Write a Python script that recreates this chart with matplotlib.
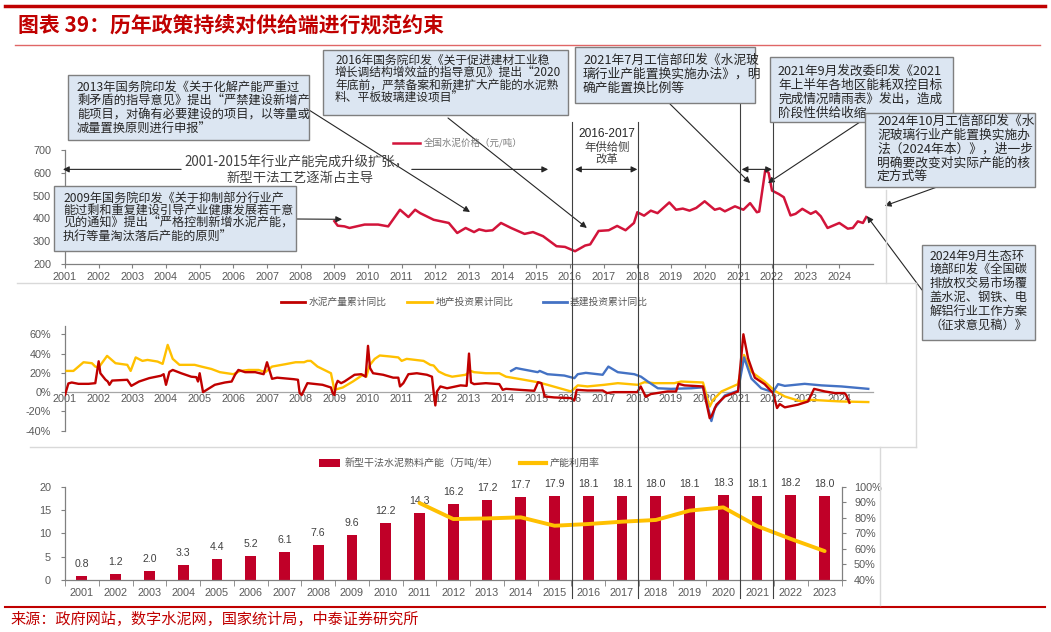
import matplotlib
matplotlib.use('Agg')
import matplotlib.pyplot as plt
from matplotlib.patches import Rectangle
from matplotlib.lines import Line2D
import matplotlib.transforms as mtrans

plt.rcParams['font.family'] = ['Liberation Sans', 'Noto Sans CJK SC', 'DejaVu Sans']
CJK = ['Noto Sans CJK SC', 'DejaVu Sans']

# ---------------- data ----------------
# national cement price (yuan/ton): (year, value)
price = [(2009.0, 388), (2009.1, 368), (2009.3, 365), (2009.45, 358), (2009.9, 373), (2010.3, 373),
         (2010.6, 365), (2010.95, 438), (2011.2, 406), (2011.4, 438), (2011.55, 423), (2011.95, 394),
         (2012.4, 380), (2012.65, 336), (2012.9, 358), (2013.15, 340), (2013.3, 352), (2013.5, 345),
         (2013.7, 348), (2013.95, 380), (2014.25, 358), (2014.65, 332), (2014.9, 340), (2015.2, 322),
         (2015.6, 278), (2015.85, 275), (2016.15, 256), (2016.45, 281), (2016.6, 286), (2016.85, 345),
         (2017.15, 348), (2017.4, 367), (2017.65, 348), (2017.9, 380), (2018.0, 427), (2018.2, 412),
         (2018.4, 434), (2018.6, 423), (2018.95, 470), (2019.15, 438), (2019.35, 443), (2019.55, 434),
         (2019.75, 446), (2020.0, 475), (2020.3, 438), (2020.45, 444), (2020.6, 431), (2020.9, 453),
         (2021.15, 438), (2021.35, 467), (2021.55, 427), (2021.62, 430), (2021.8, 612), (2021.9, 600),
         (2022.0, 522), (2022.2, 507), (2022.35, 493), (2022.55, 413), (2022.7, 420), (2022.9, 442),
         (2023.15, 420), (2023.3, 431), (2023.45, 409), (2023.65, 358), (2024.0, 380), (2024.25, 355),
         (2024.4, 358), (2024.55, 387), (2024.7, 380), (2024.8, 406)]

# cumulative YoY (%) : cement output
cement_yoy = [(2001.0, -3), (2001.1, 9), (2001.2, 10), (2001.4, 8.6), (2001.7, 8.6), (2001.9, 9.3),
              (2002.0, 32), (2002.05, 19.6), (2002.2, 13), (2002.27, 11), (2002.32, 7.6), (2002.4, 12),
              (2002.85, 12.8), (2002.97, 6.5), (2003.2, 11), (2003.5, 14.5), (2003.85, 17), (2003.93, 18.6),
              (2004.0, 7.6), (2004.1, 21), (2004.2, 23), (2004.45, 19.6), (2004.75, 16), (2004.9, 15.5),
              (2004.95, 11), (2005.0, 19.6), (2005.1, 0), (2005.45, 7.6), (2005.75, 10), (2005.95, 11),
              (2006.05, 18), (2006.15, 23), (2006.35, 20.7), (2006.65, 20.7), (2006.9, 18.6), (2007.0, 31),
              (2007.15, 13.8), (2007.3, 15), (2007.8, 13.4), (2007.92, 12.8), (2007.97, -1), (2008.03, -3),
              (2008.2, 9.3), (2008.65, 7.6), (2008.9, 4.8), (2008.95, -1), (2009.0, -3), (2009.05, 7.6),
              (2009.1, 11.7), (2009.2, 9.3), (2009.3, 11), (2009.6, 18), (2009.8, 18.6), (2009.93, 16),
              (2010.0, 48), (2010.06, 25), (2010.15, 19.6), (2010.45, 18), (2010.75, 15), (2010.9, 15),
              (2010.95, 5.9), (2011.05, 9.3), (2011.2, 18.6), (2011.45, 19.6), (2011.75, 18), (2011.9, 16),
              (2011.95, 0), (2012.0, -13.8), (2012.05, 0.7), (2012.15, 5.9), (2012.35, 4), (2012.75, 7),
              (2012.93, 6.5), (2013.0, 40), (2013.06, 10), (2013.15, 8.3), (2013.5, 9.3), (2013.9, 8.3),
              (2014.0, 2.4), (2014.1, 3.4), (2014.5, 2.4), (2014.94, 1.4), (2015.05, 10.3), (2015.15, 9.3),
              (2015.25, -4.5), (2015.53, -5.5), (2016.03, -6.2), (2016.13, -8.6), (2016.2, 2.4),
              (2016.52, 1.7), (2016.97, 1.7), (2017.1, -1), (2017.3, 0), (2018.0, 0), (2018.1, 5.9),
              (2018.25, -4.8), (2018.4, -2), (2018.9, 0.7), (2019.15, 0.7), (2019.22, 8.6), (2019.4, 7),
              (2019.95, 5.9), (2020.02, -6), (2020.15, -27), (2020.2, -25), (2020.35, -13), (2020.6, -4.5),
              (2020.99, 0.7), (2021.15, 60), (2021.29, 35), (2021.49, 15), (2021.78, 8.3), (2022.03, -1),
              (2022.15, -16.5), (2022.23, -12.4), (2022.38, -15.8), (2022.77, -13), (2023.07, -9.7),
              (2023.25, 3.4), (2023.57, 0.7), (2023.87, -1), (2024.15, -1), (2024.2, -2.8), (2024.3, -11)]

# cumulative YoY (%) : real-estate investment
estate_yoy = [(2001.05, 22), (2001.25, 22), (2001.55, 31), (2001.8, 30), (2001.9, 26.5), (2002.0, 25.5),
              (2002.25, 37.6), (2002.5, 30), (2002.85, 28.3), (2002.95, 22), (2003.1, 36), (2003.3, 32.4),
              (2003.45, 33.4), (2003.75, 31.7), (2003.9, 29.3), (2004.05, 49), (2004.2, 34.5), (2004.4, 28.3),
              (2004.85, 28.3), (2005.05, 26.5), (2005.35, 24), (2005.6, 20.7), (2006.0, 18.6), (2006.2, 22),
              (2006.45, 23), (2006.75, 23), (2006.95, 20.7), (2007.15, 26.5), (2007.55, 29), (2007.85, 31),
              (2008.1, 31), (2008.2, 32.4), (2008.3, 32.4), (2008.5, 26.5), (2008.9, 19.6), (2008.95, 11),
              (2009.0, 2.4), (2009.25, 4.8), (2009.55, 11), (2009.85, 18), (2009.95, 16), (2010.05, 28),
              (2010.2, 34.5), (2010.35, 38), (2010.65, 37), (2010.9, 36), (2011.0, 32.4), (2011.15, 34.5),
              (2011.65, 32.4), (2011.85, 28.3), (2011.95, 27.6), (2012.1, 21.4), (2012.3, 18), (2012.5, 16),
              (2012.9, 18), (2013.05, 22), (2013.15, 20.7), (2013.5, 19.6), (2013.9, 19.6), (2014.1, 16),
              (2014.54, 13.4), (2015.04, 10.3), (2015.33, 7.6), (2016.03, 0.7), (2016.23, 7), (2016.52, 5.9),
              (2017.02, 7.6), (2017.42, 9.3), (2018.01, 7.6), (2018.21, 10.3), (2018.51, 9.3), (2019.1, 9.3),
              (2019.3, 11), (2019.95, 10), (2020.05, -2.8), (2020.15, -15), (2020.25, -8), (2020.5, 0.7),
              (2020.99, 8.3), (2021.17, 38.6), (2021.39, 21), (2021.78, 11), (2022.08, 1.4), (2022.38, -4.5),
              (2022.87, -9.7), (2023.17, -8), (2023.67, -9), (2024.06, -9.7), (2024.86, -10.3)]

# cumulative YoY (%) : infrastructure investment
infra_yoy = [(2014.25, 22), (2014.4, 25), (2014.54, 24), (2015.04, 20.7), (2015.1, 22), (2015.33, 18.6),
             (2015.83, 17.2), (2016.13, 14.5), (2016.23, 18.6), (2016.47, 20), (2016.97, 18), (2017.14, 26.5),
             (2017.42, 20.7), (2017.91, 18.6), (2018.11, 16), (2018.31, 11), (2018.61, 4), (2019.0, 3.4),
             (2019.6, 4), (2019.95, 5), (2020.2, -30), (2020.3, -16.5), (2020.6, -3.4), (2020.99, 1.4),
             (2021.17, 36), (2021.39, 14), (2021.68, 4), (2022.03, 0), (2022.18, 8.3), (2022.38, 6.5),
             (2022.97, 8.6), (2023.47, 7), (2024.06, 5.9), (2024.86, 3.4)]

cap_years = [str(y) for y in range(2001, 2024)]
capacity = [0.8, 1.2, 2.0, 3.3, 4.4, 5.2, 6.1, 7.6, 9.6, 12.2, 14.3, 16.2, 17.2, 17.7, 17.9,
            18.1, 18.1, 18.0, 18.1, 18.3, 18.1, 18.2, 18.0]
util_years = [str(y) for y in range(2011, 2024)]
utilization = [89.5, 79.2, 79.6, 80.3, 74.9, 76.0, 77.5, 78.6, 84.6, 86.7, 74.7, 66.4, 58.6]

price_ticks = list(range(2001, 2025))
divider_years = [2016.05, 2018.02, 2021.05, 2022.03]

# ---------------- figure ----------------
W, H = 1051, 632
fig = plt.figure(figsize=(W / 100, H / 100), dpi=100)
fig.patch.set_facecolor('white')

def fx(x): return x / W
def fy(y): return 1 - y / H
def axes_px(l, t, r, b):
    return fig.add_axes([l / W, 1 - b / H, (r - l) / W, (b - t) / H])
def fline(xs, ys, **kw):
    fig.add_artist(Line2D([fx(x) for x in xs], [fy(y) for y in ys], transform=fig.transFigure, **kw))
def ftext(x, y, s, **kw):
    return fig.text(fx(x), fy(y), s, **kw)

TICKC = '#595959'
AXC = '#808080'
RED_P = '#D2143A'
RED = '#C00000'
YEL = '#FFC000'
BLUE = '#4472C4'

def style_axis(ax):
    for s in ['top', 'right']:
        ax.spines[s].set_visible(False)
    for s in ['left', 'bottom']:
        ax.spines[s].set_color(AXC)
        ax.spines[s].set_linewidth(0.9)
    ax.set_facecolor('none')
    ax.tick_params(labelsize=7.8, labelcolor=TICKC, color=AXC, width=0.8)

# ---- top: price ----
ax1 = axes_px(65, 150, 873, 264)
t, v = zip(*price)
ax1.plot(t, v, color=RED_P, lw=1.8, zorder=3)
ax1.set_xlim(2001, 2025)
ax1.set_ylim(200, 700)
ax1.set_xticks(price_ticks)
ax1.set_xticklabels([str(y) for y in price_ticks])
ax1.set_yticks(range(200, 701, 100))
style_axis(ax1)
ax1.tick_params(axis='x', length=3, pad=3)
ax1.tick_params(axis='y', length=3, pad=7)

# ---- middle: yoy ----
ax2 = axes_px(65, 325.6, 873, 430.7)
for data, col, z in [(cement_yoy, RED, 4), (estate_yoy, YEL, 3), (infra_yoy, BLUE, 3)]:
    t, v = zip(*data)
    ax2.plot(t, v, color=col, lw=1.7, zorder=z)
ax2.set_xlim(2001, 2025)
ax2.set_ylim(-40, 69)
ax2.set_yticks(range(-40, 61, 20))
ax2.set_yticklabels([f'{y}%' for y in range(-40, 61, 20)])
ax2.set_xticks(price_ticks)
ax2.set_xticklabels([str(y) for y in price_ticks])
style_axis(ax2)
ax2.spines['bottom'].set_position(('data', 0))
ax2.spines['bottom'].set_color('#A6A6A6')
ax2.tick_params(axis='x', length=0, pad=1)
ax2.tick_params(axis='y', length=3, pad=7)

# ---- bottom: capacity ----
ax3 = axes_px(65, 486.7, 841.5, 580)
xs = list(range(len(cap_years)))
ax3.bar(xs, capacity, width=0.32, color='#C00028', zorder=2)
for x, c in zip(xs, capacity):
    ax3.annotate(f'{c:.1f}', (x, c), xytext=(0, 7), textcoords='offset pixels',
                 ha='center', va='bottom', fontsize=7.6, color='#404040')
ax3.set_xlim(-0.5, len(cap_years) - 0.5)
ax3.set_ylim(0, 20)
ax3.set_yticks(range(0, 21, 5))
ax3.set_xticks(xs)
ax3.set_xticklabels(cap_years)
ax3.set_xticks([x - 0.5 for x in range(len(cap_years) + 1)], minor=True)
style_axis(ax3)
ax3.tick_params(axis='x', which='major', length=0, pad=6)
ax3.tick_params(axis='x', which='minor', length=4, color=AXC)
ax3.tick_params(axis='y', length=3, pad=7)

ax3b = ax3.twinx()
ux = [cap_years.index(y) for y in util_years]
ax3b.plot(ux, utilization, color=YEL, lw=2.8, solid_joinstyle='round', solid_capstyle='round')
ax3b.set_ylim(40, 100)
ax3b.set_yticks(range(40, 101, 10))
ax3b.set_yticklabels([f'{y}%' for y in range(40, 101, 10)])
for s in ['top', 'left', 'bottom']:
    ax3b.spines[s].set_visible(False)
ax3b.spines['right'].set_color(AXC)
ax3b.spines['right'].set_linewidth(0.9)
ax3b.tick_params(labelsize=7.8, labelcolor=TICKC, color=AXC, width=0.8, length=3, pad=6)
ax3b.set_facecolor('none')

# ---------------- decorations ----------------
# title and rules
fline([5, 1045], [6, 6], color=RED, lw=2.5)
ftext(18, 25, '图表 39：历年政策持续对供给端进行规范约束', fontsize=15, fontweight='bold',
      color=RED, family=CJK, va='center', ha='left')
fline([15, 1040], [45, 45], color='#E06666', lw=1.0)
fline([5, 1045], [607, 607], color=RED, lw=1.5)
ftext(10, 619, '来源：政府网站，数字水泥网，国家统计局，中泰证券研究所', fontsize=10.9,
      color=RED, family=CJK, va='center', ha='left')

# faint panel frames
PF = '#D9D9D9'
fline([17, 916], [283, 283], color=PF, lw=1)
fline([886, 886], [190, 283], color=PF, lw=1)
fline([916, 916], [283, 447], color=PF, lw=1)
fline([30, 916], [447, 447], color=PF, lw=1)
fline([880, 880], [447, 605], color=PF, lw=1)

# vertical dividers spanning panels
vt = mtrans.blended_transform_factory(ax1.transData, fig.transFigure)
for yr, top in zip(divider_years, [122, 122, 104, 122]):
    fig.add_artist(Line2D([yr, yr], [fy(top), fy(598)], transform=vt, color='#404040', lw=0.8, zorder=6))

# legends
fline([393, 420], [142.7, 142.7], color=RED_P, lw=1.8)
ftext(424, 142.7, '全国水泥价格（元/吨）', fontsize=6.8, color='#7F7F7F', family=CJK, va='center')
fline([281, 305], [301.7, 301.7], color=RED, lw=2)
ftext(309, 301.7, '水泥产量累计同比', fontsize=7, color=TICKC, family=CJK, va='center')
fline([407, 432], [301.7, 301.7], color=YEL, lw=2)
ftext(436, 301.7, '地产投资累计同比', fontsize=7, color=TICKC, family=CJK, va='center')
fline([543, 567], [301.7, 301.7], color=BLUE, lw=2)
ftext(570, 301.7, '基建投资累计同比', fontsize=7, color=TICKC, family=CJK, va='center')
fig.add_artist(Rectangle((fx(319), fy(467)), 21 / W, 8 / H, transform=fig.transFigure,
                         facecolor='#C00028', edgecolor='none'))
ftext(345, 463, '新型干法水泥熟料产能（万吨/年）', fontsize=7.2, color=TICKC, family=CJK, va='center')
fline([520, 546], [463, 463], color=YEL, lw=3)
ftext(550, 463, '产能利用率', fontsize=7.2, color=TICKC, family=CJK, va='center')

# period texts in the top chart
ftext(296, 162, '2001-2015年行业产能完成升级扩张，', fontsize=9.6, color='#404040', family=CJK,
      ha='center', va='center')
ftext(300, 178, '新型干法工艺逐渐占主导', fontsize=9.6, color='#404040', family=CJK,
      ha='center', va='center')
ftext(607, 134, '2016-2017', fontsize=8.6, color='#262626', ha='center', va='center')
ftext(607, 147, '年供给侧', fontsize=8.2, color='#404040', family=CJK, ha='center', va='center')
ftext(607, 159, '改革', fontsize=8.2, color='#404040', family=CJK, ha='center', va='center')

AP = dict(arrowstyle='-|>', color='#262626', lw=0.8, mutation_scale=9, shrinkA=0, shrinkB=0)
AP2 = dict(arrowstyle='<|-|>', color='#262626', lw=0.8, mutation_scale=9, shrinkA=0, shrinkB=0)
# period arrows (value ~615 on the price axis)
ax1.annotate('', xy=(2000.94, 615), xytext=(2004.45, 615), arrowprops=AP, annotation_clip=False)
ax1.annotate('', xy=(2015.35, 615), xytext=(2011.3, 615), arrowprops=AP, annotation_clip=False)
ax1.annotate('', xy=(2018.0, 615), xytext=(2016.15, 615), arrowprops=AP2, annotation_clip=False)
ax1.annotate('', xy=(2022.0, 615), xytext=(2021.1, 615), arrowprops=AP2, annotation_clip=False)

# callout arrows: (tail in figure px) -> (head on price axis)
callouts = [((309, 110), (2013.03, 428)),
            ((448, 118), (2016.5, 358)),
            ((670, 104), (2021.35, 555)),
            ((860, 122), (2021.88, 555)),
            ((937, 187), (2025.35, 455)),
            ((296, 219), (2009.23, 396)),
            ((922, 290), (2024.82, 410))]
for (tx, ty), head in callouts:
    ax1.annotate('', xy=head, xycoords='data', xytext=(tx, H - ty), textcoords='figure pixels',
                 arrowprops=AP, annotation_clip=False)

def box(x0, y0, x1, y1, lines, fs, pad, ys, z=10):
    fig.add_artist(Rectangle((fx(x0), fy(y1)), (x1 - x0) / W, (y1 - y0) / H, transform=fig.transFigure,
                             facecolor='#DCE6F2', edgecolor='#7F7F7F', lw=1.0, zorder=z))
    for s, yy in zip(lines, ys):
        ftext(x0 + pad, yy, s, fontsize=fs, family=CJK, color='#262626', va='center', ha='left',
              zorder=z + 0.5)

box(68, 75, 309, 140, ['2013年国务院印发《关于化解产能严重过',
                       '剩矛盾的指导意见》提出“严禁建设新增产',
                       '能项目，对确有必要建设的项目，以等量或',
                       '减量置换原则进行申报”'], 8.8, 9, [88, 101.5, 115, 128.5])
box(323, 50, 568, 115, ['2016年国务院印发《关于促进建材工业稳',
                        '增长调结构增效益的指导意见》提出“2020',
                        '年底前，严禁备案和新建扩大产能的水泥熟',
                        '料、平板玻璃建设项目”'], 8.5, 12, [60, 72.8, 85.6, 98.4])
box(575, 47, 755, 103, ['2021年7月工信部印发《水泥玻',
                        '璃行业产能置换实施办法》，明',
                        '确产能置换比例等'], 9.2, 8, [60, 74.5, 88.5])
box(770, 57, 953, 122, ['2021年9月发改委印发《2021',
                        '年上半年各地区能耗双控目标',
                        '完成情况晴雨表》发出，造成',
                        '阶段性供给收缩'], 9.1, 8, [71.5, 85.5, 99.5, 113])
box(865, 113, 1035, 187, ['2024年10月工信部印发《水',
                          '泥玻璃行业产能置换实施办',
                          '法（2024年本）》，进一步',
                          '明确要改变对实际产能的核',
                          '定方式等'], 9.2, 12, [121.7, 135.5, 149.3, 163, 176.7], z=12)
box(54, 186, 296, 251, ['2009年国务院印发《关于抑制部分行业产',
                        '能过剩和重复建设引导产业健康发展若干意',
                        '见的通知》提出“严格控制新增水泥产能，',
                        '执行等量淘汰落后产能的原则”'], 8.7, 9, [198, 210.7, 223.3, 236.7])
box(922, 245, 1035, 340, ['2024年9月生态环',
                          '境部印发《全国碳',
                          '排放权交易市场覆',
                          '盖水泥、钢铁、电',
                          '解铝行业工作方案',
                          '（征求意见稿）》'], 8.8, 8, [256, 270, 283.5, 297, 311, 325])

fig.savefig('out.png', dpi=100)
